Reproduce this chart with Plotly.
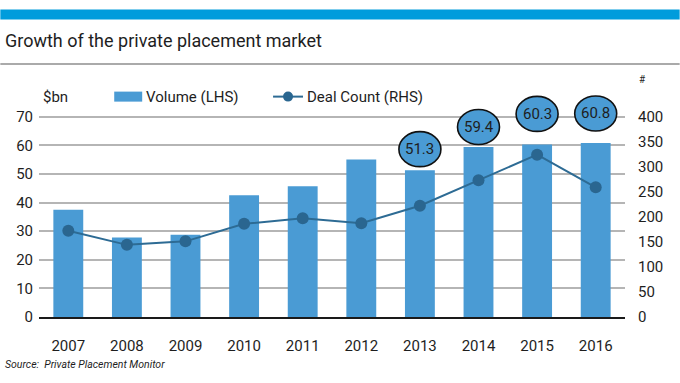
import plotly.graph_objects as go

years = ["2007", "2008", "2009", "2010", "2011", "2012", "2013", "2014", "2015", "2016"]
volume = [37.5, 27.8, 28.7, 42.5, 45.7, 55.0, 51.3, 59.4, 60.3, 60.8]
deal_count = [172, 144, 151, 186, 197, 187, 222, 273, 324, 259]
left_ticks = [0, 10, 20, 30, 40, 50, 60, 70]
right_ticks = [0, 50, 100, 150, 200, 250, 300, 350, 400]
callout_years = ["2013", "2014", "2015", "2016"]
callout_labels = ["51.3", "59.4", "60.3", "60.8"]

# style / layout
W, H = 680, 383
PL, PR, PT, PB = 38.7, 625.3, 88.4, 317.0
BAR_C = "#4a9bd4"
LINE_C = "#2d6b94"
GRID_C = "#b5b5b5"
FONT = "Roboto"
TXT = "#1e1e1e"
callout_offsets = [21, 20, 30.5, 29.5]  # px above bar top

def px(x):
    return (x - PL) / (PR - PL)

def py(y):
    return (PB - y) / (PB - PT)

xs = list(range(len(years)))
ymax = 80
fig = go.Figure()
fig.add_trace(go.Bar(x=xs, y=volume, marker=dict(color=BAR_C, line=dict(width=0)),
                     width=0.51, showlegend=False, hoverinfo="y"))
fig.add_trace(go.Scatter(x=xs, y=deal_count, yaxis="y2", mode="lines+markers",
                         line=dict(color=LINE_C, width=2),
                         marker=dict(color="#2a6690", size=12),
                         showlegend=False, cliponaxis=False))

shapes = []
annotations = []
for yr, lab, off in zip(callout_years, callout_labels, callout_offsets):
    i = years.index(yr)
    v = volume[i]
    shapes.append(dict(type="circle", xref="x", yref="y", xsizemode="pixel", ysizemode="pixel",
                       xanchor=i, yanchor=v, x0=-21, x1=21, y0=off - 17.5, y1=off + 17.5,
                       fillcolor=BAR_C, line=dict(color="#111111", width=1.6), layer="above"))
    annotations.append(dict(x=i, y=v, xref="x", yref="y", yshift=off, text=lab, showarrow=False,
                            font=dict(family=FONT, size=15, color=TXT)))

# header decorations
shapes.append(dict(type="rect", xref="paper", yref="paper", x0=px(0), x1=px(W), y0=py(20), y1=py(10),
                   fillcolor="#009cdc", line=dict(width=0)))
shapes.append(dict(type="line", xref="paper", yref="paper", x0=px(0), x1=px(W), y0=py(64.5), y1=py(64.5),
                   line=dict(color="#aaaaaa", width=2)))
# manual legend
shapes.append(dict(type="rect", xref="paper", yref="paper", x0=px(114), x1=px(142), y0=py(102), y1=py(92),
                   fillcolor=BAR_C, line=dict(width=0)))
shapes.append(dict(type="line", xref="paper", yref="paper", x0=px(273), x1=px(303), y0=py(97), y1=py(97),
                   line=dict(color=LINE_C, width=2)))
shapes.append(dict(type="circle", xref="paper", yref="paper", x0=px(283), x1=px(293), y0=py(102), y1=py(92),
                   fillcolor="#2a6690", line=dict(width=0)))

def txt(x, y, s, size, anchor="left", **kw):
    annotations.append(dict(x=px(x), y=py(y), xref="paper", yref="paper", text=s, showarrow=False,
                            xanchor=anchor, yanchor="middle",
                            font=dict(family=kw.get("family", FONT), size=size, color=TXT)))

txt(3, 41, "Growth of the private placement market", 18)
txt(41, 97, "$bn", 15)
txt(144, 97, "Volume (LHS)", 15)
txt(305, 97, "Deal Count (RHS)", 15)
txt(637, 80, "#", 10)
txt(3, 364, "<i>Source:  Private Placement Monitor</i>", 10.5)

fig.update_layout(
    width=W, height=H,
    margin=dict(l=PL, r=W - PR, t=PT, b=H - PB, pad=0),
    plot_bgcolor="white", paper_bgcolor="white",
    bargap=0.49,
    xaxis=dict(range=[-0.5, len(years) - 0.5], tickvals=xs, ticktext=years, showgrid=False,
               showline=True, linecolor="#1a1a1a", linewidth=2, ticks="", zeroline=False,
               tickfont=dict(family=FONT, size=15, color=TXT), ticklabelstandoff=14),
    yaxis=dict(range=[0, ymax], tickvals=left_ticks, showgrid=True, gridcolor=GRID_C, gridwidth=1.6,
               zeroline=False, ticks="", tickfont=dict(family=FONT, size=15, color=TXT),
               ticklabelstandoff=5),
    yaxis2=dict(range=[0, 400 * ymax / 70], tickvals=right_ticks, overlaying="y", side="right",
                showgrid=False, zeroline=False, ticks="",
                tickfont=dict(family=FONT, size=15, color=TXT), ticklabelstandoff=12),
    shapes=shapes, annotations=annotations,
)
fig.write_html("out.html", config={"displayModeBar": False},
               post_script="document.body.style.margin='0';")
